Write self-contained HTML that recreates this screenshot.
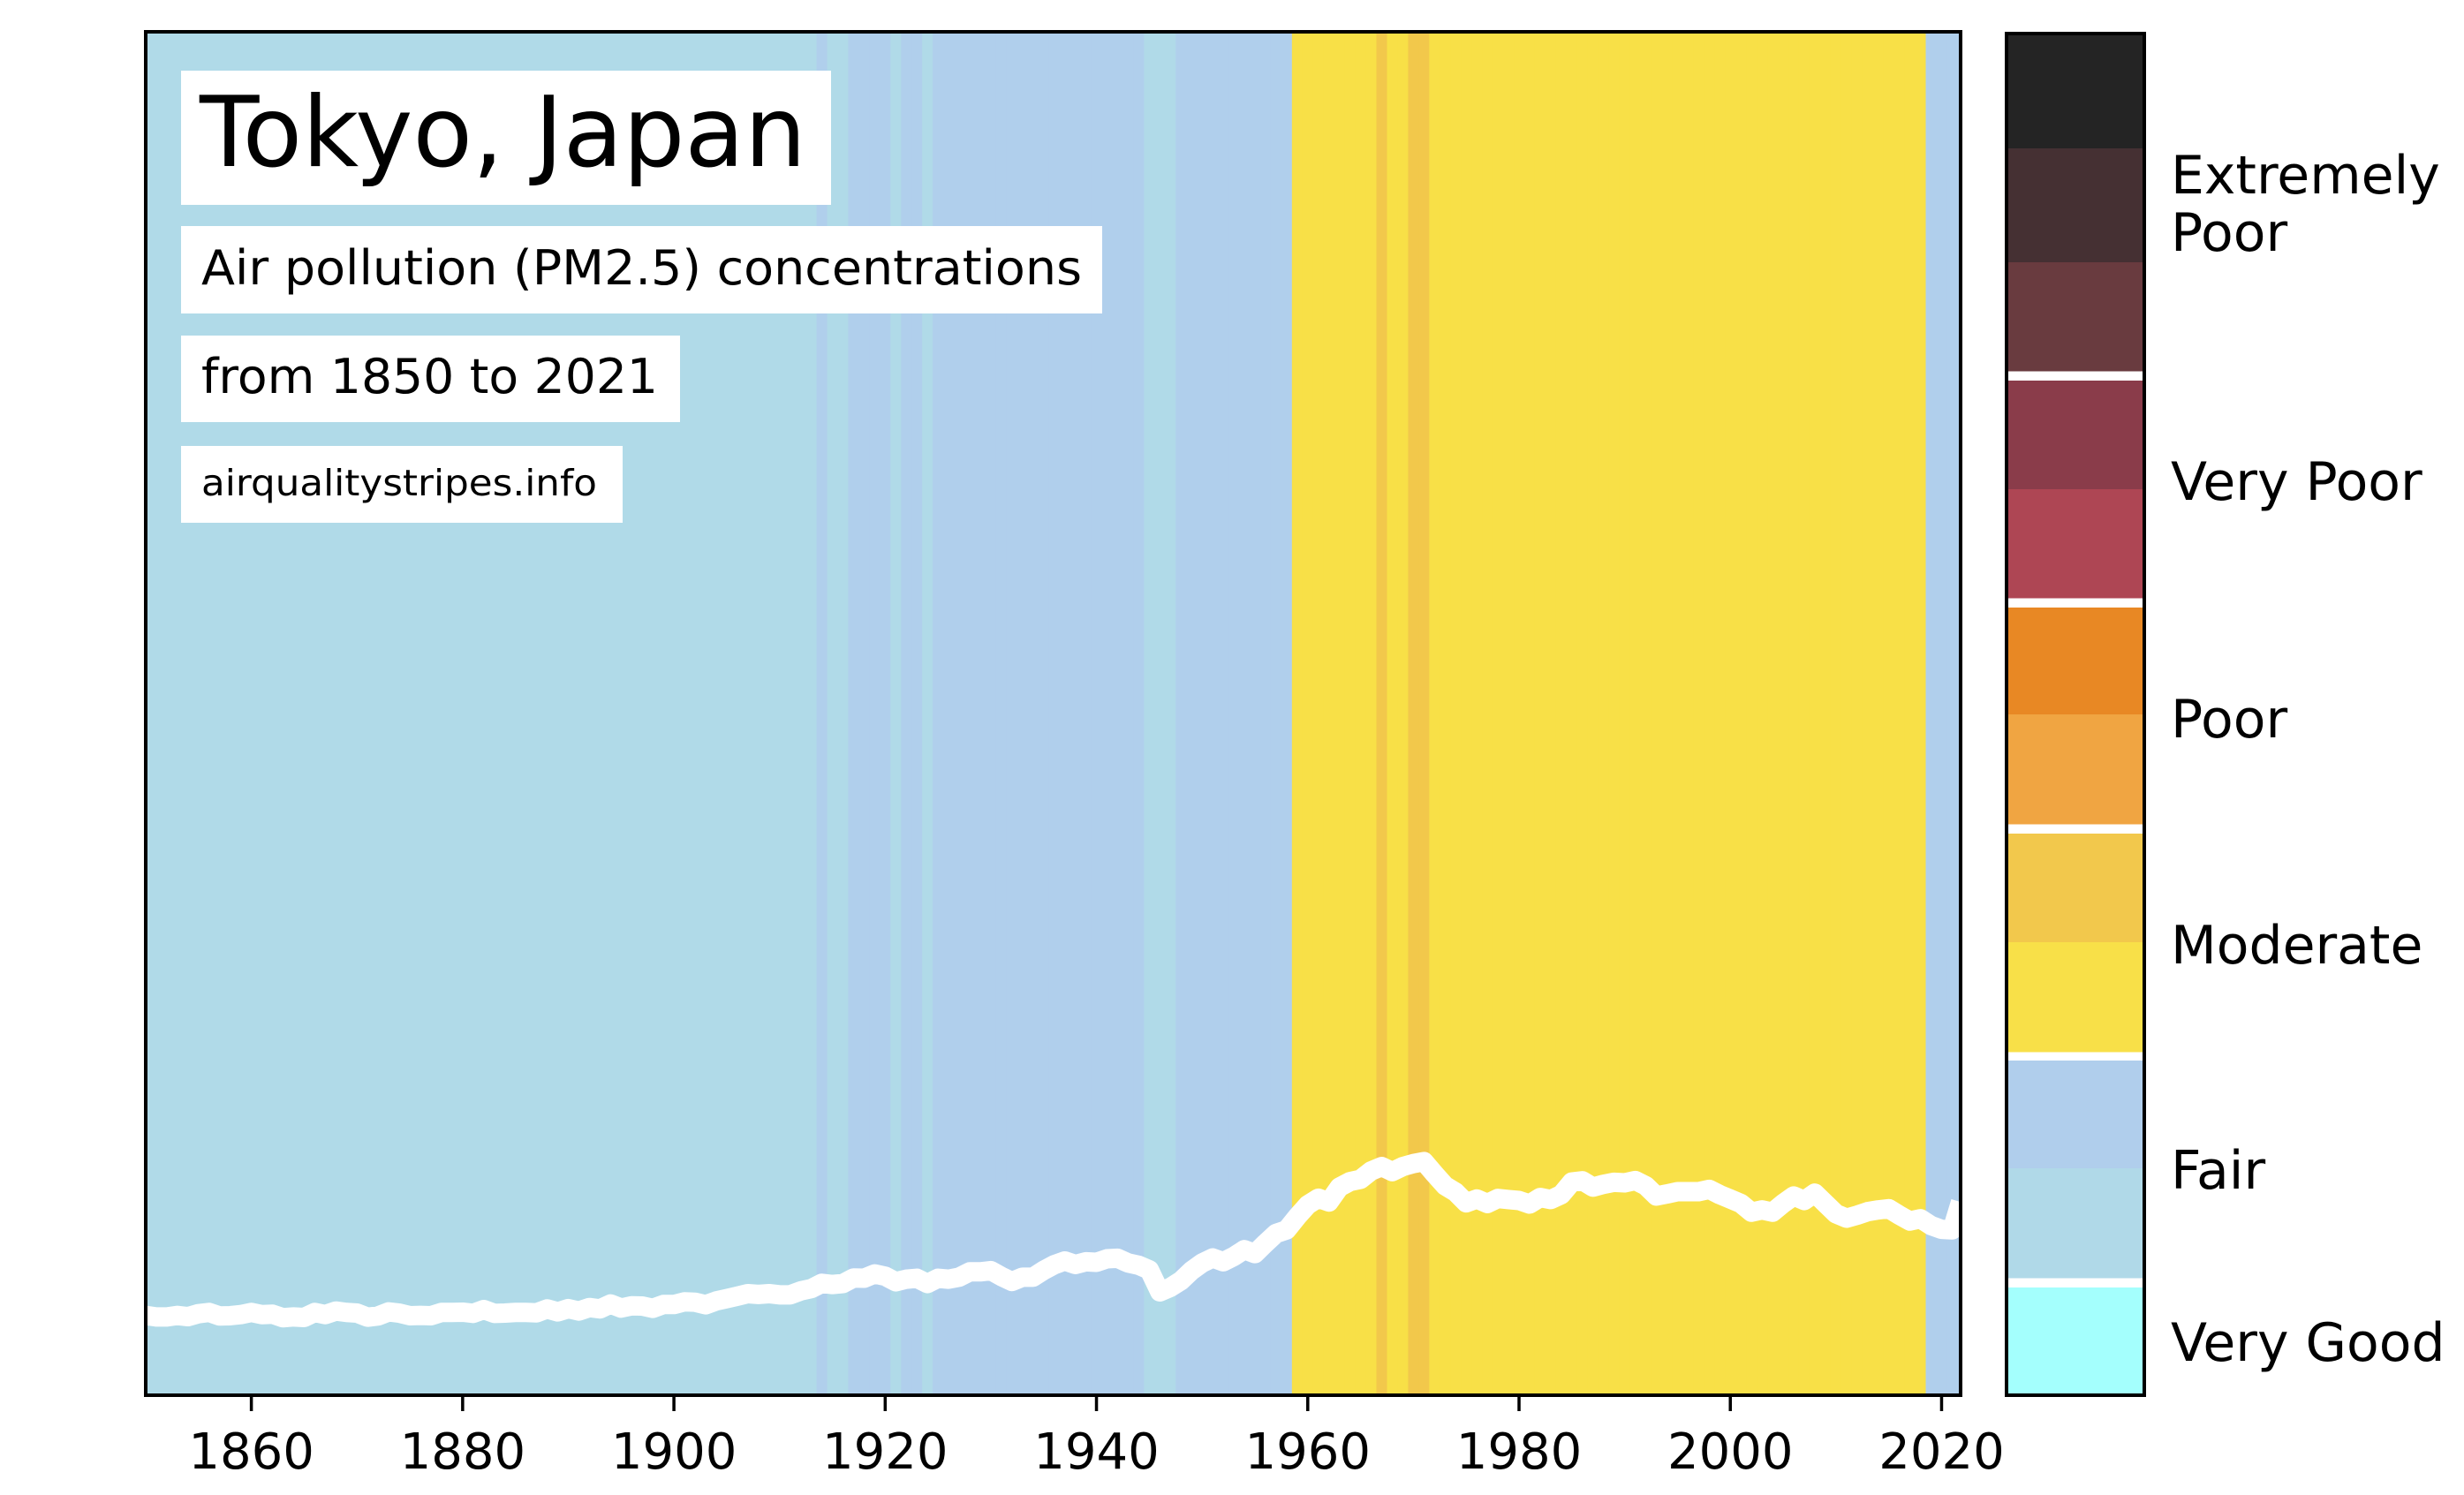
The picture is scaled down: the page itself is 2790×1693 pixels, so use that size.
<!DOCTYPE html>
<html><head><meta charset="utf-8"><style>
html,body{margin:0;padding:0;background:#fff;}
svg{display:block;font-family:"DejaVu Sans","Liberation Sans",sans-serif;}
</style></head><body>
<svg id="chart" width="2790" height="1693" viewBox="0 0 2790 1693" xmlns="http://www.w3.org/2000/svg">
<rect x="0" y="0" width="2790" height="1693" fill="#fff"/>
<g id="stripes"></g>
<g id="line"></g>
<rect x="165" y="36" width="2055" height="1544" fill="none" stroke="#000" stroke-width="4"/>
<g id="xaxis"></g>
<g>
<rect x="205" y="80" width="736" height="152" fill="#fff"/>
<text x="226" y="188" font-size="111" textLength="687" lengthAdjust="spacingAndGlyphs">Tokyo, Japan</text>
<rect x="205" y="256" width="1043" height="99" fill="#fff"/>
<text x="228" y="322" font-size="54" textLength="997" lengthAdjust="spacingAndGlyphs">Air pollution (PM2.5) concentrations</text>
<rect x="205" y="380" width="565" height="98" fill="#fff"/>
<text x="228" y="445" font-size="54" textLength="517" lengthAdjust="spacingAndGlyphs">from 1850 to 2021</text>
<rect x="205" y="505" width="500" height="87" fill="#fff"/>
<text x="228" y="561" font-size="41" textLength="448" lengthAdjust="spacingAndGlyphs">airqualitystripes.info</text>
</g>
<g id="cbar"></g>
</svg>
<script>
const years = [];
for (let y = 1850; y <= 2022; y++) years.push(y);
const pm25 = [
5.73,5.62,5.62,5.73,5.64,5.86,5.95,5.69,5.71,5.79,
5.95,5.79,5.82,5.56,5.62,5.58,5.95,5.79,6.05,5.95,
5.90,5.60,5.69,5.99,5.90,5.71,5.73,5.71,5.95,5.95,
5.97,5.88,6.16,5.88,5.90,5.95,5.95,5.92,6.21,5.99,
6.23,6.05,6.31,6.21,6.57,6.27,6.44,6.42,6.25,6.53,
6.53,6.73,6.70,6.51,6.79,6.96,7.14,7.33,7.27,7.33,
7.24,7.24,7.53,7.70,8.09,8.00,8.07,8.48,8.46,8.78,
8.61,8.20,8.39,8.46,8.07,8.46,8.39,8.54,8.93,8.93,
9.02,8.59,8.22,8.54,8.54,9.04,9.45,9.73,9.47,9.67,
9.63,9.89,9.93,9.58,9.41,9.08,7.46,7.79,8.28,9.02,
9.58,9.95,9.67,10.06,10.56,10.27,11.03,11.75,12.01,12.98,
13.85,14.34,14.06,15.15,15.56,15.73,16.34,16.66,16.29,16.66,
16.88,17.03,16.12,15.25,14.78,14.00,14.28,13.95,14.32,14.24,
14.17,13.91,14.39,14.24,14.60,15.53,15.62,15.15,15.36,15.51,
15.47,15.64,15.25,14.50,14.65,14.82,14.82,14.82,14.99,14.60,
14.28,13.95,13.31,13.48,13.31,13.95,14.50,14.17,14.71,13.95,
13.20,12.87,13.09,13.35,13.48,13.57,13.09,12.66,12.83,12.33,
12.05,12.01,14.06
];
const levels = "GGGGGGGGGGGGGGGGGGGGGGGGGGGGGGGGGGGGGGGGGGGGGGGGGGGGGGGGGGGGGGGG"+
 "FGGFFFFGFFGFFFFFFFFFFFFFFFFFFFFGGGFFFFFFFFFFF"+
 "MMMMMMMMOMMOOMMMMMMMMMMMMMMMMMMMMMMMMMMMMMMMMMMMMMMMMMMMMMMM"+
 "FFFF";
const xTicks = [1860,1880,1900,1920,1940,1960,1980,2000,2020];
const cbarColors = ["#242424","#453033","#693b3f","#8a3c4a","#ae4654","#e88824","#f0a542","#f2c84c","#f8e048","#b0ceec","#b0d9e8","#a4fffd"];
const cbarLabels = ["Extremely Poor","Very Poor","Poor","Moderate","Fair","Very Good"];
const levelColor = {G:"#b0dae8",F:"#b0cfec",M:"#f8e047",O:"#f2c84b"};

const NS = "http://www.w3.org/2000/svg";
const X0 = 165, X1 = 2220, Y0 = 36, Y1 = 1578;
const xMin = 1850, xMax = 2021.8, yMin = 0, yMax = 100;
function xs(v){ return X0 + (v - xMin) / (xMax - xMin) * (X1 - X0); }
function ys(v){ return Y1 - (v - yMin) / (yMax - yMin) * (Y1 - Y0); }
function mk(tag, attrs, parent){ const e = document.createElementNS(NS, tag); for (const k in attrs) e.setAttribute(k, attrs[k]); parent.appendChild(e); return e; }

const gS = document.getElementById('stripes');
years.forEach((yr, i) => {
  const a = Math.max(xMin, yr - 0.5), b = Math.min(xMax, yr + 0.5);
  if (b <= a) return;
  const r = mk('rect', {x: xs(a), y: Y0, width: xs(b) - xs(a) + 0.6, height: Y1 - Y0, fill: levelColor[levels[i]] || "#f8e047"}, gS);
  
  
});

const gL = document.getElementById('line');
const pts = years.map((yr, i) => xs(Math.min(yr, xMax)) + ',' + ys(pm25[i])).join(' ');
const pl = mk('polyline', {points: pts, fill: 'none', stroke: '#fff', 'stroke-width': 22, 'stroke-linejoin': 'round', 'stroke-linecap': 'butt'}, gL);



const gX = document.getElementById('xaxis');
xTicks.forEach(t => {
  const tk = mk('line', {x1: xs(t), x2: xs(t), y1: 1580, y2: 1598, stroke: '#000', 'stroke-width': 3.5}, gX);
  
  
  const lb = mk('text', {x: xs(t), y: 1663, 'font-size': 56, 'text-anchor': 'middle'}, gX);
  lb.textContent = t;
  
  
});

const gC = document.getElementById('cbar');
const segTops = [38,168,297,431,554,688,809,944,1067,1201,1323,1458];
const segBots = [168,297,420,554,677,809,933,1067,1191,1323,1447,1578];
cbarColors.forEach((c, i) => {
  const r = mk('rect', {x: 2272, y: segTops[i], width: 156, height: segBots[i] - segTops[i] + 0.5, fill: c}, gC);
  
  
});
const fr = mk('rect', {x: 2272, y: 38, width: 156, height: 1542, fill: 'none', stroke: '#000', 'stroke-width': 4}, gC);


const labelPos = [[219,284],[566],[835],[1091],[1346],[1541]];
cbarLabels.forEach((l, i) => {
  const parts = i === 0 ? ["Extremely","Poor"] : [l];
  parts.forEach((p, j) => {
    const t = mk('text', {x: 2458, y: labelPos[i][j], 'font-size': 60}, gC);
    t.textContent = p;
    
    
  });
});
</script>
</body></html>
